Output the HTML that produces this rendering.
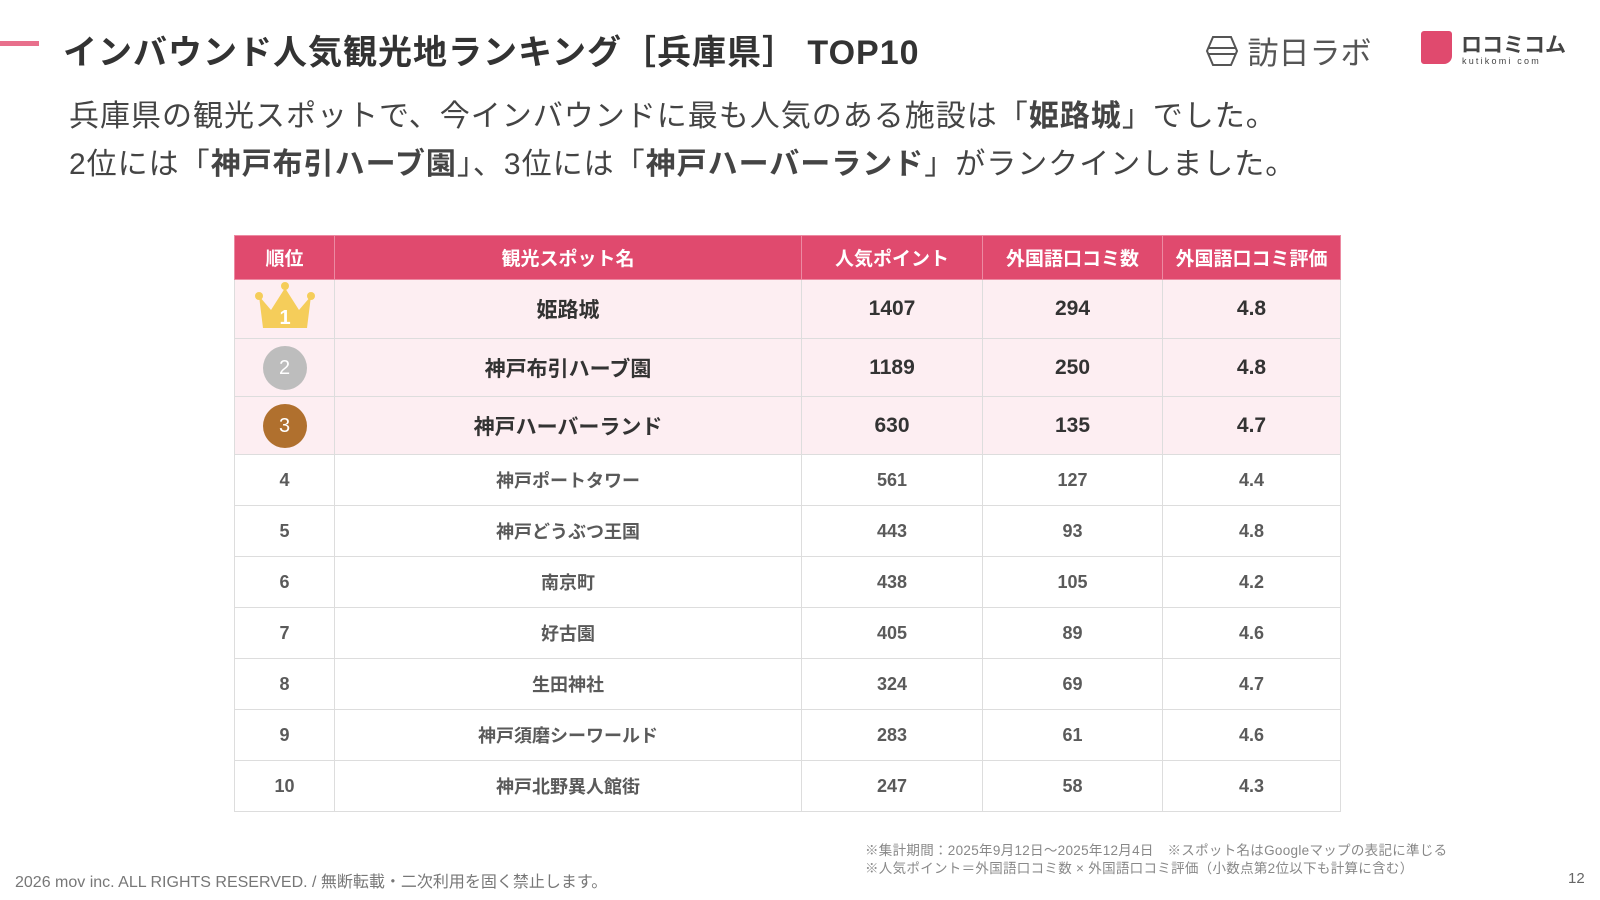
<!DOCTYPE html>
<html lang="ja"><head><meta charset="utf-8">
<style>
body{margin:0;width:1600px;height:900px;background:#fff;position:relative;overflow:hidden;font-family:"Liberation Sans","Noto Sans CJK JP",sans-serif;color:#444}
.abs{position:absolute}
table{position:absolute;left:234px;top:235px;width:1106px;border-collapse:collapse;table-layout:fixed}
td,th{border:1px solid #ddd;text-align:center;padding:0;color:#555;font-size:19px}
th{background:#e04a6e;color:#fff;font-size:19px;font-weight:bold;height:43px;border-color:#ec8aa2}
tr.top td{background:#fdeef2;font-weight:bold;color:#333;font-size:21px;height:57px}
tr.rest td{height:50px;font-weight:bold;color:#5a5a5a;font-size:18px}
.med{display:inline-block;width:44px;height:44px;border-radius:50%;color:#fff;line-height:44px;font-size:20px;font-weight:normal}
</style></head><body>
<div class="abs" style="left:0;top:41px;width:39px;height:5px;background:#e8708c"></div>
<div class="abs" style="left:63px;top:25px;font-size:34px;letter-spacing:1px;font-weight:bold;color:#333;white-space:nowrap">インバウンド人気観光地ランキング［兵庫県］ TOP10</div>
<div class="abs" style="left:1205px;top:28px;white-space:nowrap">
<svg width="34" height="36" style="vertical-align:middle"><polygon points="8,4 26,4 32,18 26,32 8,32 2,18" fill="none" stroke="#555" stroke-width="2"/><line x1="4" y1="15" x2="30" y2="15" stroke="#555" stroke-width="2"/><line x1="4" y1="21" x2="30" y2="21" stroke="#555" stroke-width="2"/></svg>
<span style="font-size:31px;color:#555;vertical-align:middle;margin-left:4px">訪日ラボ</span></div>
<div class="abs" style="left:1421px;top:31px;width:31px;height:33px;background:#e04a6e;border-radius:3px 3px 8px 3px"></div>
<div class="abs" style="left:1461px;top:29px;font-size:21px;font-weight:bold;color:#444;white-space:nowrap">ロコミコム</div>
<div class="abs" style="left:1462px;top:56px;font-size:9px;color:#444;letter-spacing:2.2px;white-space:nowrap">kutikomi com</div>
<div class="abs" style="left:69px;top:93px;font-size:30px;letter-spacing:1px;line-height:48px;color:#444;white-space:nowrap">兵庫県の観光スポットで、今インバウンドに最も人気のある施設は「<b>姫路城</b>」でした。<br>2位には「<b>神戸布引ハーブ園</b>」、3位には「<b>神戸ハーバーランド</b>」がランクインしました。</div>
<table>
<colgroup><col style="width:100px"><col style="width:467px"><col style="width:181px"><col style="width:180px"><col style="width:178px"></colgroup>
<thead><tr><th>順位</th><th>観光スポット名</th><th>人気ポイント</th><th>外国語口コミ数</th><th>外国語口コミ評価</th></tr></thead>
<tbody id="tb"></tbody></table>
<div class="abs" style="left:865px;top:842px;font-size:13.5px;letter-spacing:0.3px;line-height:18px;color:#888;white-space:nowrap">※集計期間：2025年9月12日〜2025年12月4日　※スポット名はGoogleマップの表記に準じる<br>※人気ポイント＝外国語口コミ数 × 外国語口コミ評価（小数点第2位以下も計算に含む）</div>
<div class="abs" style="left:15px;top:868px;font-size:16px;color:#777;white-space:nowrap">2026 mov inc. ALL RIGHTS RESERVED. / 無断転載・二次利用を固く禁止します。</div>
<div class="abs" style="left:1568px;top:870px;font-size:15px;color:#666">12</div>
<script>
const names=["姫路城","神戸布引ハーブ園","神戸ハーバーランド","神戸ポートタワー","神戸どうぶつ王国","南京町","好古園","生田神社","神戸須磨シーワールド","神戸北野異人館街"];
const points=[1407,1189,630,561,443,438,405,324,283,247];
const reviews=[294,250,135,127,93,105,89,69,61,58];
const ratings=["4.8","4.8","4.7","4.4","4.8","4.2","4.6","4.7","4.6","4.3"];
const tb=document.getElementById('tb');
names.forEach((n,i)=>{
 const tr=document.createElement('tr');
 tr.className=i<3?'top':'rest';
 
 
 let rank=String(i+1);
 if(i===0) rank='<svg width="64" height="52" viewBox="0 0 64 52"><polygon points="6,16 18,30 32,8 46,30 58,16 54,48 10,48" fill="#f5cd5a"/><circle cx="6" cy="16" r="4" fill="#f5cd5a"/><circle cx="58" cy="16" r="4" fill="#f5cd5a"/><circle cx="32" cy="6" r="4" fill="#f5cd5a"/><text x="32" y="44" text-anchor="middle" font-size="20" fill="#fff" font-family="Liberation Sans">1</text></svg>';
 else if(i===1) rank='<span class="med" style="background:#bdbdbd">2</span>';
 else if(i===2) rank='<span class="med" style="background:#b0702e">3</span>';
 tr.innerHTML='<td>'+rank+'</td><td>'+n+'</td><td>'+points[i]+'</td><td>'+reviews[i]+'</td><td>'+ratings[i]+'</td>';
 tb.appendChild(tr);
});
</script>
</body></html>
